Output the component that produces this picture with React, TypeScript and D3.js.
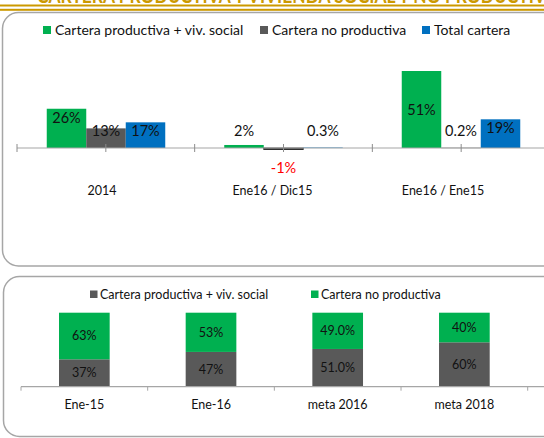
import React from "react";
import * as d3 from "d3";

// ---- Data ----
const titleText = "CARTERA PRODUCTIVA Y VIVIENDA SOCIAL Y NO PRODUCTIVA";

const topCategories = ["2014", "Ene16 / Dic15", "Ene16 / Ene15"];
const topSeriesNames = ["Cartera productiva + viv. social", "Cartera no productiva", "Total cartera"];
const topProductiva = [26, 2, 51];
const topNoProductiva = [13, -1, 0.2];
const topTotal = [17, 0.3, 19];

const bottomCategories = ["Ene-15", "Ene-16", "meta 2016", "meta 2018"];
const bottomSeriesNames = ["Cartera productiva + viv. social", "Cartera no productiva"];
const bottomProductiva = [37, 47, 51.0, 60];
const bottomNoProductiva = [63, 53, 49.0, 40];
const bottomDecimals = [0, 0, 1, 0];

const GREEN = "#00B050";
const GREY = "#595959";
const BLUE = "#0070C0";
const GOLD = "#CC9900";
const FONT = "Lato, 'Open Sans', sans-serif";
const TEXT = "#111";

const fmtTop = (v: number) =>
  ((Number.isInteger(v) ? d3.format(".0f")(v) : d3.format(".1f")(v)) + "%").replace("\u2212", "-");

export default function App() {
  const W = 544, H = 438;

  // ---- top chart scales ----
  const topAxisY = 148;
  const yTop = d3.scaleLinear().domain([0, 51]).range([topAxisY, 71]);
  const groupX = d3.scalePoint<string>().domain(topCategories).range([106, 461]);
  const labelX = d3.scalePoint<string>().domain(topCategories).range([102, 443]);
  const inner = d3.scaleBand<string>().domain(topSeriesNames).range([-59.25, 59.25]).padding(0);
  const tickScale = d3.scaleLinear().domain([0, 6]).range([17, 550]);
  const topTicks = d3.range(0, 7);
  const topColors = [GREEN, GREY, BLUE];
  const topSeries = [topProductiva, topNoProductiva, topTotal];

  // ---- bottom chart scales ----
  const botAxisY = 386.7;
  const yBot = d3.scaleLinear().domain([0, 100]).range([botAxisY, 312.7]);
  const xBot = d3.scaleBand<string>().domain(bottomCategories).range([21, 527.7]).paddingInner(0.6).paddingOuter(0.3);
  const botStep = xBot.step();
  const botTicks = d3.range(0, 5).map((i) => 21 + i * botStep);

  const topLabelY = (v: number) => {
    if (v < 0) return yTop(v) + 18;
    const top = yTop(v);
    if (topAxisY - top > 60) return (top + topAxisY) / 2;
    return Math.min(top + 9, topAxisY - 17);
  };

  return (
    <svg width={W} height={H} style={{ position: "absolute", left: 0, top: 0, background: "#fff" }} fontFamily={FONT}>
      <rect x={0} y={0} width={W} height={H} fill="#fff" />
      {/* title fragment + gold rules */}
      <text x={37} y={3} fontSize={20} fontWeight="bold" fill={GOLD} textLength={520} lengthAdjust="spacingAndGlyphs">
        {titleText}
      </text>
      <rect x={0} y={4.5} width={W} height={2} fill={GOLD} />
      <rect x={0} y={8.8} width={W} height={2} fill={GOLD} />

      {/* panels */}
      <rect x={2.5} y={12.5} width={620} height={253.5} rx={16} ry={16} fill="#fff" stroke="#a6a6a6" strokeWidth={1.5} />
      <rect x={3.5} y={276.5} width={620} height={160} rx={16} ry={16} fill="#fff" stroke="#a6a6a6" strokeWidth={1.5} />

      {/* ---- top legend ---- */}
      {[
        { c: GREEN, x: 43, name: topSeriesNames[0] },
        { c: GREY, x: 260, name: topSeriesNames[1] },
        { c: BLUE, x: 422, name: topSeriesNames[2] },
      ].map((d) => (
        <g key={d.name}>
          <rect x={d.x} y={26} width={8} height={8} fill={d.c} />
          <text x={d.x + 12} y={30} dy="0.35em" fontSize={14} fill={TEXT}>
            {d.name}
          </text>
        </g>
      ))}

      {/* ---- top bars ---- */}
      {topSeries.map((vals, si) =>
        topCategories.map((cat, ci) => {
          const v = vals[ci];
          const x = (groupX(cat) as number) + (inner(topSeriesNames[si]) as number);
          const y0 = yTop(Math.max(0, v));
          const y1 = yTop(Math.min(0, v));
          return (
            <rect
              key={`b${si}-${ci}`}
              x={x}
              y={y0}
              width={inner.bandwidth()}
              height={Math.max(0.5, y1 - y0)}
              fill={topColors[si]}
              stroke={v < 0 ? "#111" : "none"}
              strokeWidth={v < 0 ? 0.8 : 0}
            />
          );
        })
      )}
      {/* top axis */}
      <line x1={17} x2={W} y1={topAxisY} y2={topAxisY} stroke="#a6a6a6" strokeWidth={1.2} />
      {topTicks.map((t) => (
        <line key={`t${t}`} x1={tickScale(t)} x2={tickScale(t)} y1={topAxisY - 4} y2={topAxisY + 4} stroke="#8c8c8c" strokeWidth={1} />
      ))}
      {/* top labels */}
      {topSeries.map((vals, si) =>
        topCategories.map((cat, ci) => {
          const v = vals[ci];
          const x = (groupX(cat) as number) + (inner(topSeriesNames[si]) as number) + inner.bandwidth() / 2;
          return (
            <text
              key={`l${si}-${ci}`}
              x={x}
              y={topLabelY(v)}
              dy="0.35em"
              textAnchor="middle"
              fontSize={14.5}
              fill={v < 0 ? "#FF0000" : TEXT}
            >
              {fmtTop(v)}
            </text>
          );
        })
      )}
      {topCategories.map((cat) => (
        <text key={cat} x={labelX(cat)} y={191} dy="0.35em" textAnchor="middle" fontSize={12.5} fill={TEXT}>
          {cat}
        </text>
      ))}

      {/* ---- bottom legend ---- */}
      {[
        { c: GREY, x: 90, name: bottomSeriesNames[0] },
        { c: GREEN, x: 311, name: bottomSeriesNames[1] },
      ].map((d) => (
        <g key={"bl" + d.name}>
          <rect x={d.x} y={290.5} width={7.5} height={7.5} fill={d.c} />
          <text x={d.x + 10} y={294.5} dy="0.35em" fontSize={12.5} fill={TEXT}>
            {d.name}
          </text>
        </g>
      ))}

      {/* ---- bottom bars ---- */}
      {bottomCategories.map((cat, i) => {
        const x = xBot(cat) as number;
        const w = xBot.bandwidth();
        const p = bottomProductiva[i];
        const n = bottomNoProductiva[i];
        const f = d3.format(`.${bottomDecimals[i]}f`);
        return (
          <g key={cat}>
            <rect x={x} y={yBot(p)} width={w} height={yBot(0) - yBot(p)} fill={GREY} />
            <rect x={x} y={yBot(p + n)} width={w} height={yBot(p) - yBot(p + n)} fill={GREEN} />
            <text x={x + w / 2} y={(yBot(0) + yBot(p)) / 2} dy="0.35em" textAnchor="middle" fontSize={12.5} fill={TEXT}>
              {f(p)}%
            </text>
            <text x={x + w / 2} y={(yBot(p) + yBot(p + n)) / 2} dy="0.35em" textAnchor="middle" fontSize={12.5} fill={TEXT}>
              {f(n)}%
            </text>
            <text x={x + w / 2} y={405} dy="0.35em" textAnchor="middle" fontSize={12.5} fill={TEXT}>
              {cat}
            </text>
          </g>
        );
      })}
      <line x1={21} x2={W} y1={botAxisY} y2={botAxisY} stroke="#a6a6a6" strokeWidth={1.2} />
      {botTicks.map((t, i) => (
        <line key={`bt${i}`} x1={t} x2={t} y1={botAxisY} y2={botAxisY + 4} stroke="#a6a6a6" strokeWidth={1} />
      ))}
    </svg>
  );
}
